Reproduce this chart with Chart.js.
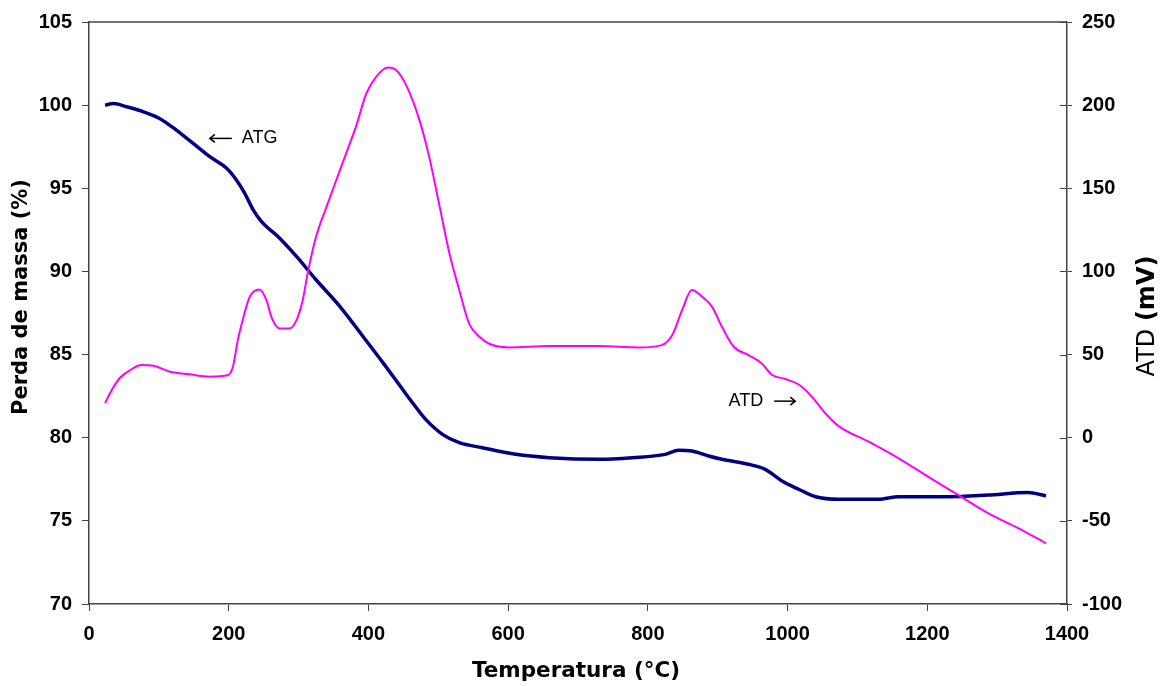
<!DOCTYPE html>
<html>
<head>
<meta charset="utf-8">
<script src="https://cdn.jsdelivr.net/npm/chart.js@4.4.1/dist/chart.umd.min.js"></script>
<style>
  html, body { margin: 0; padding: 0; background: #fff; }
  #wrap { width: 1164px; height: 686px; }
</style>
</head>
<body>
<div id="wrap"><canvas id="tgChart" width="1164" height="686"></canvas></div>
<script>
// ATG - perda de massa (%), eixo esquerdo
const atgTemp = [23, 35, 54, 78, 101, 125, 149, 173, 197, 211, 223, 235, 247, 273, 297, 325, 359, 392, 421, 449,
    465, 482, 506, 530, 563, 611, 659, 730, 778, 825, 844, 863, 887, 906, 944, 968, 992, 1016, 1040, 1073,
    1130, 1159, 1230, 1287, 1344, 1370];
const atgMass = [100.0, 100.1, 99.9, 99.6, 99.2, 98.5, 97.7, 96.9, 96.2, 95.5, 94.7, 93.7, 93.0, 92.0, 90.9, 89.5, 87.9, 86.1, 84.5, 82.9,
    82.0, 81.1, 80.2, 79.7, 79.4, 79.0, 78.8, 78.7, 78.8, 79.0, 79.25, 79.2, 78.9, 78.7, 78.4, 78.1, 77.4, 76.9, 76.45, 76.3,
    76.3, 76.45, 76.45, 76.55, 76.7, 76.5];

// ATD - sinal (mV), eixo direito
const atdTemp = [23, 30, 44, 59, 75, 92, 116, 144, 173, 199, 206, 213, 220, 230, 244, 254, 261, 273, 287, 297,
    306, 313, 325, 340, 354, 368, 382, 397, 411, 428, 440, 454, 473, 487, 501, 516, 530, 544, 559, 573,
    601, 659, 730, 787, 820, 835, 849, 863, 878, 892, 906, 923, 944, 963, 978, 997, 1016, 1035, 1054, 1073,
    1116, 1159, 1201, 1244, 1287, 1330, 1370];
const atdSignal = [20.7, 26.7, 35.9, 40.7, 43.7, 43.3, 39.7, 38.1, 36.7, 37.7, 42.7, 58.7, 70.7, 84.7, 89.2, 82.8, 72.7, 65.7, 65.7, 70.7,
    82.8, 98.8, 120.8, 138.8, 154.9, 170.9, 186.9, 207, 217, 222.6, 221, 212, 191, 168.9, 140.9, 110.8, 88.8, 68.8, 60.7, 56.5,
    54.3, 55.1, 55.1, 54.3, 55.7, 61.7, 76.7, 88.8, 84.7, 78.7, 66.7, 54.7, 49.7, 44.7, 37.7, 35.3, 32, 24.6, 14.7, 7.0,
    -2.4, -12.4, -23.4, -34.4, -45.4, -54.4, -63.5];

// tick labels / limits
const tempTicks = { min: 0, max: 1400, step: 200 };
const massTicks = { min: 70, max: 105, step: 5 };
const atdTicks = { min: -100, max: 250, step: 50 };

// annotation anchors (data coords: temperature, mass %)
const atgLabelPos = { x: 173, y: 98 };
const atdLabelPos = { x: 1011, y: 82.2 };

const tickFont = { family: 'Liberation Sans, Arial, sans-serif', size: 20, weight: 'bold' };
const axisColor = '#444';

const framePlugin = {
    id: 'frame',
    afterDraw(chart) {
        const ctx = chart.ctx;
        const a = chart.chartArea;
        const xs = chart.scales.x, ys = chart.scales.y, y2 = chart.scales.y2;
        ctx.save();
        // top border
        ctx.strokeStyle = axisColor;
        ctx.lineWidth = 1.5;
        ctx.beginPath();
        ctx.moveTo(a.left, a.top);
        ctx.lineTo(a.right, a.top);
        ctx.stroke();
        // inner part of right ticks
        ctx.lineWidth = 1;
        y2.ticks.forEach(t => {
            const py = Math.round(y2.getPixelForValue(t.value)) + 0.5;
            ctx.beginPath();
            ctx.moveTo(a.right - 7, py);
            ctx.lineTo(a.right, py);
            ctx.stroke();
        });

        // axis titles
        ctx.fillStyle = '#000';
        ctx.textAlign = 'center';
        ctx.textBaseline = 'middle';
        ctx.font = 'bold 21.5px "DejaVu Sans", Verdana, sans-serif';
        ctx.fillText('Temperatura (°C)', (a.left + a.right) / 2 - 2, 671);

        ctx.save();
        ctx.translate(22, 297);
        ctx.rotate(-Math.PI / 2);
        ctx.font = 'bold 21px "DejaVu Sans", Verdana, sans-serif';
        ctx.fillText('Perda de massa (%)', 0, 0);
        ctx.restore();

        ctx.save();
        ctx.translate(1148, 316);
        ctx.rotate(-Math.PI / 2);
        ctx.textAlign = 'left';
        const p1 = 'ATD ';
        ctx.font = '24px "DejaVu Sans", Verdana, sans-serif';
        const w1 = ctx.measureText(p1).width;
        ctx.font = 'bold 24px "DejaVu Sans", Verdana, sans-serif';
        const w2 = ctx.measureText('(mV)').width;
        const start = -(w1 + w2) / 2;
        ctx.font = '24px "DejaVu Sans", Verdana, sans-serif';
        ctx.fillText(p1, start, 0);
        ctx.font = 'bold 24px "DejaVu Sans", Verdana, sans-serif';
        ctx.fillText('(mV)', start + w1, 0);
        ctx.restore();

        // curve labels with arrows
        ctx.font = '18px "Liberation Sans", Arial, sans-serif';
        ctx.textAlign = 'left';
        ctx.strokeStyle = '#000';
        ctx.lineWidth = 1.5;
        const gx = xs.getPixelForValue(atgLabelPos.x), gy = ys.getPixelForValue(atgLabelPos.y);
        drawArrow(ctx, gx + 22, gy, gx, gy);
        ctx.fillText('ATG', gx + 32, gy);
        const dx = xs.getPixelForValue(atdLabelPos.x), dy = ys.getPixelForValue(atdLabelPos.y);
        drawArrow(ctx, dx - 21, dy, dx, dy);
        ctx.textAlign = 'right';
        ctx.fillText('ATD', dx - 32, dy);
        ctx.restore();
    }
};

function drawArrow(ctx, x1, y1, x2, y2) {
    const dir = Math.sign(x2 - x1);
    ctx.beginPath();
    ctx.moveTo(x1, y1);
    ctx.lineTo(x2, y2);
    ctx.stroke();
    ctx.beginPath();
    ctx.moveTo(x2 - dir * 5, y2 - 4);
    ctx.lineTo(x2, y2);
    ctx.lineTo(x2 - dir * 5, y2 + 4);
    ctx.stroke();
}

function toPoints(xs, ys) {
    return xs.map((x, i) => ({ x: x, y: ys[i] }));
}

function axisGrid() {
    return { display: true, drawOnChartArea: false, drawTicks: true, tickLength: 7, color: axisColor, lineWidth: 1 };
}

new Chart(document.getElementById('tgChart').getContext('2d'), {
    type: 'line',
    data: {
        datasets: [
            {
                label: 'ATD',
                data: toPoints(atdTemp, atdSignal),
                yAxisID: 'y2',
                borderColor: '#ff00ff',
                borderWidth: 2,
                pointRadius: 0,
                cubicInterpolationMode: 'monotone',
                fill: false
            },
            {
                label: 'ATG',
                data: toPoints(atgTemp, atgMass),
                yAxisID: 'y',
                borderColor: '#000080',
                borderWidth: 3.5,
                pointRadius: 0,
                cubicInterpolationMode: 'monotone',
                fill: false
            }
        ]
    },
    options: {
        responsive: false,
        animation: false,
        layout: { padding: { top: 21, left: 0, right: 0, bottom: 0 } },
        plugins: { legend: { display: false }, tooltip: { enabled: false } },
        scales: {
            x: {
                type: 'linear',
                min: tempTicks.min, max: tempTicks.max,
                ticks: { stepSize: tempTicks.step, color: '#000', font: tickFont, padding: 11, callback: v => String(v) },
                grid: axisGrid(),
                border: { display: true, color: axisColor, width: 1.5 },
                afterFit(s) { s.height = 82; }
            },
            y: {
                position: 'left',
                min: massTicks.min, max: massTicks.max,
                ticks: { stepSize: massTicks.step, color: '#000', font: tickFont, padding: 10, callback: v => String(v) },
                grid: axisGrid(),
                border: { display: true, color: axisColor, width: 1.5 },
                afterFit(s) { s.width = 89; }
            },
            y2: {
                position: 'right',
                min: atdTicks.min, max: atdTicks.max,
                ticks: { stepSize: atdTicks.step, color: '#000', font: tickFont, padding: 10, callback: v => String(v) },
                grid: Object.assign(axisGrid(), { tickLength: 5 }),
                border: { display: true, color: axisColor, width: 1.5 },
                afterFit(s) { s.width = 97; }
            }
        }
    },
    plugins: [framePlugin]
});
</script>
</body>
</html>
